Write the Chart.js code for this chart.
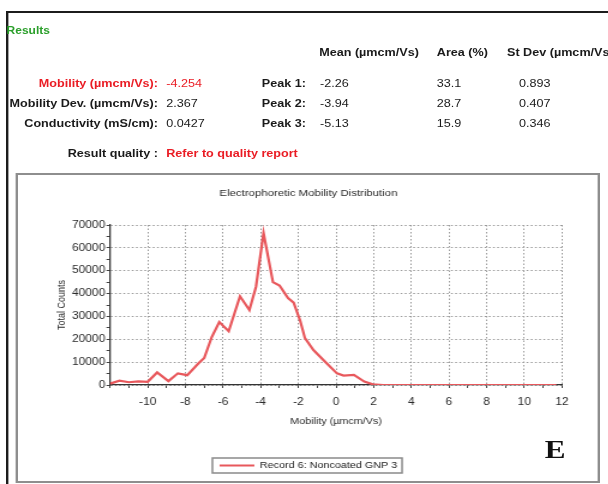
<!DOCTYPE html>
<html>
<head>
<meta charset="utf-8">
<script src="https://cdn.jsdelivr.net/npm/chart.js@4/dist/chart.umd.min.js"></script>
<style>
  html, body { margin: 0; padding: 0; background: #fff; overflow: hidden; }
  body { width: 608px; height: 484px; position: relative; }
  #sheet {
    position: absolute; left: 0; top: 0; width: 507px; height: 484px;
    transform: scaleX(1.2); transform-origin: 0 0;
    font-family: "Liberation Sans", Arial, sans-serif; color: #1a1a1a;
  }
  .frame { position: absolute; left: 5px; top: 11px; width: 600px; height: 600px; border: 2px solid #1c1c1c; box-sizing: border-box; }
  .panel { position: absolute; left: 13px; top: 173px; width: 487px; height: 310px; border: 2px solid #8e8e8e; box-sizing: border-box; }
  .t { position: absolute; font-size: 10.5px; line-height: 12px; white-space: nowrap; }
  .b { font-weight: bold; }
  .red { color: #ea1c24; }
  .lab { left: 0; width: 131.7px; text-align: right; font-weight: bold; }
  .peak { left: 200px; width: 55px; text-align: right; font-weight: bold; }
  .v1 { left: 138.5px; }
  .v2 { left: 266.7px; }
  .v3 { left: 364px; }
  .v4 { left: 432.5px; }
  #results { left: 5.5px; top: 25px; color: #2b9f2b; font-weight: bold; font-size: 10px; }
  #chartBox { position: absolute; left: 15px; top: 176px; width: 484px; height: 304px; }
  #tag { position: absolute; left: 454px; top: 437px; font-family: "Liberation Serif", "Times New Roman", serif; font-weight: bold; font-size: 26px; line-height: 26px; color: #111; }
</style>
</head>
<body>
<div id="sheet">
  <div class="frame"></div>
  <div class="t" id="results">Results</div>

  <div class="t b" style="left:266px; top:46px;">Mean (µmcm/Vs)</div>
  <div class="t b" style="left:364px; top:46px;">Area (%)</div>
  <div class="t b" style="left:422.5px; top:46px;">St Dev (µmcm/Vs)</div>

  <div class="t lab red" style="top:77px;">Mobility (µmcm/Vs):</div>
  <div class="t v1 red" style="top:77px;">-4.254</div>
  <div class="t peak" style="top:77px;">Peak 1:</div>
  <div class="t v2" style="top:77px;">-2.26</div>
  <div class="t v3" style="top:77px;">33.1</div>
  <div class="t v4" style="top:77px;">0.893</div>

  <div class="t lab" style="top:97px;">Mobility Dev. (µmcm/Vs):</div>
  <div class="t v1" style="top:97px;">2.367</div>
  <div class="t peak" style="top:97px;">Peak 2:</div>
  <div class="t v2" style="top:97px;">-3.94</div>
  <div class="t v3" style="top:97px;">28.7</div>
  <div class="t v4" style="top:97px;">0.407</div>

  <div class="t lab" style="top:117px;">Conductivity (mS/cm):</div>
  <div class="t v1" style="top:117px;">0.0427</div>
  <div class="t peak" style="top:117px;">Peak 3:</div>
  <div class="t v2" style="top:117px;">-5.13</div>
  <div class="t v3" style="top:117px;">15.9</div>
  <div class="t v4" style="top:117px;">0.346</div>

  <div class="t lab" style="top:147px;">Result quality :</div>
  <div class="t v1 red b" style="top:147px;">Refer to quality report</div>

  <div class="panel"></div>
  <div id="chartBox"><canvas id="c" width="484" height="304"></canvas></div>
  <div id="tag">E</div>
</div>

<script>
// Electrophoretic mobility distribution (total counts vs mobility)
const mobility = [-12, -11.5, -11, -10.5, -10, -9.5, -8.9, -8.4, -7.9, -7.3, -7.0, -6.6, -6.2, -5.7,
                  -5.1, -4.6, -4.25, -3.85, -3.35, -3.0, -2.55, -2.25, -1.9, -1.65, -1.2, -0.5,
                  0.05, 0.4, 0.95, 1.5, 1.95, 2.5, 4, 6, 8, 10, 11.7];
const counts = [600, 1900, 1200, 1600, 1400, 5500, 1700, 5100, 4300, 9500, 11800, 21000, 27500, 23500,
                38800, 32800, 43000, 66500, 45000, 43500, 38000, 36000, 28000, 20500, 15300, 9500,
                5100, 4100, 4400, 1500, 300, 0, 0, 0, 0, 0, 0];
const seriesName = 'Record 6: Noncoated GNP 3';
const xRange = [-12, 12];
const yRange = [0, 70000];

const points = mobility.map((m, i) => ({ x: m, y: counts[i] }));
const lineColor = '#e8585c';
const font = 'Liberation Sans';
const gridColor = '#9a9a9a';

// outline around the legend entry
const legendFrame = {
  id: 'legendFrame',
  afterDraw(chart) {
    const hb = chart.legend && chart.legend.legendHitBoxes && chart.legend.legendHitBoxes[0];
    if (!hb) return;
    const ctx = chart.ctx;
    ctx.save();
    ctx.strokeStyle = '#8a8a8a';
    ctx.lineWidth = 1.5;
    ctx.strokeRect(hb.left - 6, hb.top - 3, hb.width + 10, hb.height + 6);
    ctx.restore();
  }
};

new Chart(document.getElementById('c'), {
  type: 'scatter',
  data: {
    datasets: [{
      label: seriesName,
      data: points,
      showLine: true,
      borderColor: lineColor,
      backgroundColor: lineColor,
      borderWidth: 2.2,
      pointRadius: 0,
      tension: 0
    }]
  },
  options: {
    responsive: false,
    animation: false,
    layout: { padding: 0 },
    plugins: {
      title: {
        display: true,
        text: 'Electrophoretic Mobility Distribution',
        color: '#2a2a2a',
        font: { family: font, size: 9.5, weight: 'normal' },
        padding: { top: 11.3, bottom: 26.3 }
      },
      legend: {
        display: true,
        position: 'bottom',
        labels: {
          color: '#222',
          font: { family: font, size: 9 },
          boxWidth: 29,
          boxHeight: 0,
          padding: 6
        }
      },
      tooltip: { enabled: false }
    },
    scales: {
      x: {
        type: 'linear',
        min: xRange[0], max: xRange[1],
        afterFit(s) { s.height = 70; s.paddingRight = 30.7; },
        ticks: {
          stepSize: 1,
          autoSkip: false,
          maxRotation: 0,
          color: '#2a2a2a',
          font: { family: font, size: 10 },
          padding: 8,
          callback: v => (v % 2 === 0 && v !== xRange[0]) ? String(v) : ''
        },
        grid: {
          color: c => (c.tick && c.tick.value % 2 === 0) ? gridColor : 'rgba(0,0,0,0)',
          lineWidth: 1,
          tickColor: '#444',
          tickLength: 3
        },
        border: { display: true, color: '#333', width: 1.3, dash: [1.5, 2] },
        title: {
          display: true,
          text: 'Mobility (µmcm/Vs)',
          color: '#2a2a2a',
          font: { family: font, size: 9 },
          padding: { top: 0, bottom: 27.6 }
        }
      },
      y: {
        min: yRange[0], max: yRange[1],
        afterFit(s) { s.width = 76.7; },
        ticks: {
          stepSize: 5000,
          autoSkip: false,
          color: '#2a2a2a',
          font: { family: font, size: 10 },
          padding: 1,
          callback: v => (v % 10000 === 0) ? String(v) : ''
        },
        grid: {
          color: c => (c.tick && c.tick.value % 10000 === 0) ? gridColor : 'rgba(0,0,0,0)',
          lineWidth: 1,
          tickColor: '#444',
          tickLength: 3
        },
        border: { display: true, color: '#333', width: 1.3, dash: [1.5, 2] },
        title: {
          display: true,
          text: 'Total Counts',
          color: '#2a2a2a',
          font: { family: font, size: 9 },
          padding: { top: 31.3, bottom: 0 }
        }
      }
    }
  },
  plugins: [legendFrame]
});
</script>
</body>
</html>
